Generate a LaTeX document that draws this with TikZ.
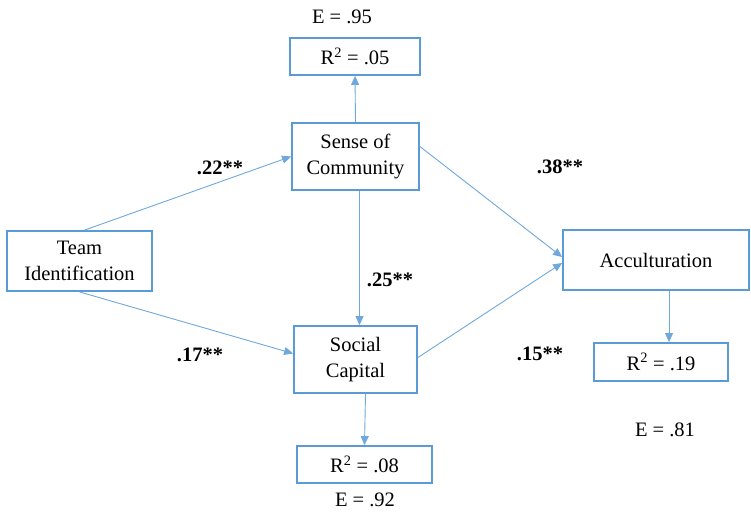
\documentclass[tikz,border=0pt]{standalone}
\usepackage{fontspec}
\setmainfont{Liberation Serif}
\usetikzlibrary{arrows.meta}
\definecolor{boxblue}{HTML}{5B9BD5}
\definecolor{arrowblue}{HTML}{6FA8DC}
\begin{document}
\begin{tikzpicture}[x=1pt,y=-1pt,>={Triangle[length=9pt,width=8pt]},font=\fontsize{20.5}{25.5}\selectfont,
	box/.style={draw=boxblue,line width=1.8pt,align=center,inner sep=0pt},
	link/.style={->,arrowblue,line width=0.9pt},
	coef/.style={font=\fontsize{20.5}{25.5}\selectfont\bfseries}]
			\useasboundingbox (0,0) rectangle (751,515);
			% boxes
			\node[box,minimum width=130,minimum height=37] (rsoc) at (355,56.5) {R\textsuperscript{2} = .05};
			\node[box,minimum width=127,minimum height=67] (soc) at (355.5,156.5) {Sense of\\Community};
			\node[box,minimum width=145,minimum height=60] (team) at (79.5,261) {Team\\Identification};
			\node[box,minimum width=123,minimum height=67] (cap) at (355.5,359.5) {Social\\Capital};
			\node[box,minimum width=135,minimum height=37] (rcap) at (364.5,464.5) {R\textsuperscript{2} = .08};
			\node[box,minimum width=186,minimum height=60] (acc) at (656,260) {Acculturation};
			\node[box,minimum width=134,minimum height=38] (racc) at (661,362) {R\textsuperscript{2} = .19};
			% error terms
			\node (esoc) at (342,17) {E = .95};
			\node (ecap) at (365,500) {E = .92};
			\node (eacc) at (665,430) {E = .81};
			% paths
			\draw[link]([xshift=5]team.north)--(soc.west);
			\draw[link](team.south)--([yshift=6]cap.west);
			\draw[link]([xshift=4]soc.south)--([xshift=4]cap.north);
			\draw[link]([yshift=10]soc.east)--([yshift=3]acc.west);
			\draw[link]([yshift=2]cap.east)--([yshift=-3]acc.west);
			\draw[link](soc.north)--(rsoc.south);
			\draw[link]([xshift=10]cap.south)--(rcap.north);
			\draw[link]([xshift=13]acc.south)--([xshift=8]racc.north);
			% coefficients
			\node[coef] (ltsoc) at (220,168) {.22**};
			\node[coef] (ltcap) at (200,355) {.17**};
			\node[coef] (lsoccap) at (390,280) {.25**};
			\node[coef] (lsocacc) at (560,167) {.38**};
			\node[coef] (lcapacc) at (540,354) {.15**};
		\end{tikzpicture}
\end{document}
